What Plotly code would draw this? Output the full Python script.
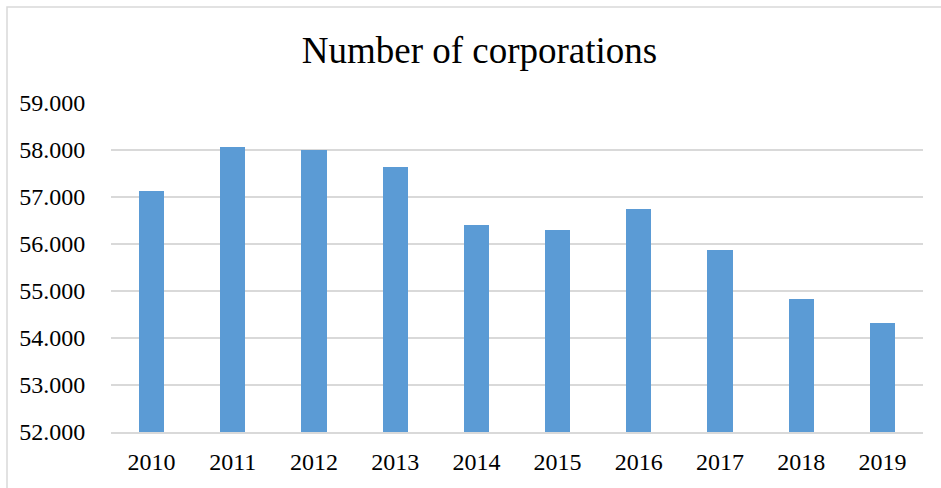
import plotly.graph_objects as go

years = ["2010", "2011", "2012", "2013", "2014", "2015", "2016", "2017", "2018", "2019"]
corporations = [57130, 58060, 57990, 57630, 56400, 56300, 56740, 55880, 54840, 54320]
y_ticks = [52000, 53000, 54000, 55000, 56000, 57000, 58000, 59000]

W, H = 941, 488
L, R, T, B = 111, 18, 103, 56
pw, ph = W - L - R, H - T - B

SERIF = "Liberation Serif, Times New Roman, serif"

fig = go.Figure(
    go.Bar(
        x=years,
        y=corporations,
        marker=dict(color="#5b9bd5", line=dict(width=0)),
        width=0.31,
    )
)

# light outer frame around the chart area
fig.add_shape(
    type="rect", xref="paper", yref="paper",
    x0=(7 - L) / pw, x1=(W + 20 - L) / pw,
    y0=(H - B - (H + 20)) / ph, y1=(H - B - 7) / ph,
    line=dict(color="#d9d9d9", width=1.5), layer="below",
)

fig.update_layout(
    width=W, height=H,
    margin=dict(l=L, r=R, t=T, b=B, autoexpand=False),
    paper_bgcolor="white", plot_bgcolor="white",
    separators=",.",
    showlegend=False,
    bargap=0,
    title=dict(
        text="Number of corporations",
        font=dict(family=SERIF, size=37, color="#000000"),
        x=479.5 / W, xanchor="center",
        yref="container", y=1 - 50 / H, yanchor="middle",
    ),
    font=dict(family=SERIF, size=24, color="#000000"),
    xaxis=dict(
        type="category",
        automargin=False,
        showgrid=False,
        showline=True, linecolor="#d9d9d9", linewidth=2,
        ticks="outside", ticklen=7, tickcolor="rgba(0,0,0,0)",
        tickfont=dict(family=SERIF, size=24, color="#000000"),
        fixedrange=True,
    ),
    yaxis=dict(
        automargin=False,
        range=[52000, 59000],
        tickvals=y_ticks,
        tickformat=",d",
        showgrid=True, gridcolor="#d9d9d9", gridwidth=2,
        zeroline=False, showline=False,
        ticks="outside", ticklen=20, tickcolor="rgba(0,0,0,0)",
        tickfont=dict(family=SERIF, size=24, color="#000000"),
        fixedrange=True,
    ),
)

fig.write_html("out.html")
